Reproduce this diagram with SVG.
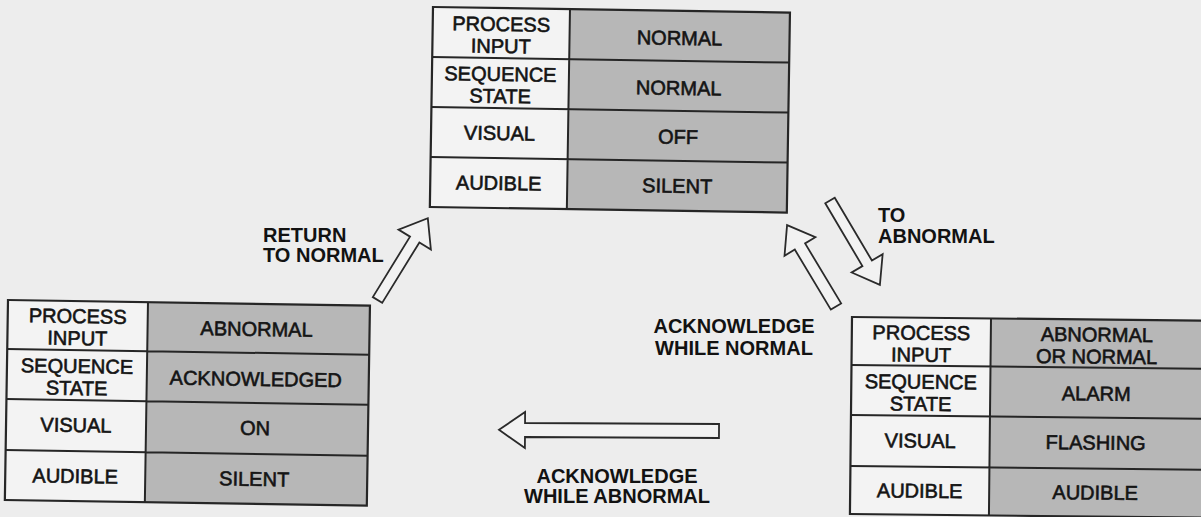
<svg xmlns="http://www.w3.org/2000/svg" width="1201" height="517" viewBox="0 0 1201 517">
  <style>
    .bg { fill: #ededed; }
    .key { fill: #f3f3f3; }
    .val { fill: #b7b7b7; }
    .grid { fill: none; stroke: #262626; stroke-width: 2; }
    .frame { fill: none; stroke: #262626; stroke-width: 2.2; }
    .cell { font-family: "Liberation Sans", Arial, sans-serif; font-size: 20px; fill: #141414; text-anchor: middle; stroke: #141414; stroke-width: 0.6; }
    .arrow { fill: #f2f2f2; stroke: #2a2a2a; stroke-width: 1.8; stroke-linejoin: miter; }
    .label { font-family: "Liberation Sans", Arial, sans-serif; font-size: 20px; font-weight: bold; fill: #121212; }
  </style>

  <rect class="bg" x="0" y="0" width="1201" height="517"/>

  <!-- Normal state -->
  <g id="state-normal" transform="translate(433,7) rotate(0.9)">
    <rect class="key" x="0" y="0" width="137" height="200"/>
    <rect class="val" x="137" y="0" width="220" height="200"/>
    <path class="grid" d="M0,50H357M0,100H357M0,150H357M137,0V200"/>
    <rect class="frame" x="0" y="0" width="357" height="200"/>
    <text class="cell" x="68.5" y="23">PROCESS</text>
    <text class="cell" x="68.5" y="45">INPUT</text>
    <text class="cell" x="68.5" y="73">SEQUENCE</text>
    <text class="cell" x="68.5" y="95">STATE</text>
    <text class="cell" x="68.5" y="132">VISUAL</text>
    <text class="cell" x="68.5" y="182">AUDIBLE</text>
    <text class="cell" x="247" y="34">NORMAL</text>
    <text class="cell" x="247" y="84">NORMAL</text>
    <text class="cell" x="247" y="133">OFF</text>
    <text class="cell" x="247" y="182">SILENT</text>
  </g>

  <!-- Acknowledged state -->
  <g id="state-acknowledged" transform="translate(8,300) rotate(0.9)">
    <rect class="key" x="0" y="0" width="140" height="200"/>
    <rect class="val" x="140" y="0" width="222" height="200"/>
    <path class="grid" d="M0,49H362M0,99H362M0,150H362M140,0V200"/>
    <rect class="frame" x="0" y="0" width="362" height="200"/>
    <text class="cell" x="70" y="22">PROCESS</text>
    <text class="cell" x="70" y="44">INPUT</text>
    <text class="cell" x="70" y="72">SEQUENCE</text>
    <text class="cell" x="70" y="94">STATE</text>
    <text class="cell" x="70" y="131">VISUAL</text>
    <text class="cell" x="70" y="182">AUDIBLE</text>
    <text class="cell" x="249" y="32">ABNORMAL</text>
    <text class="cell" x="249" y="82">ACKNOWLEDGED</text>
    <text class="cell" x="249" y="131">ON</text>
    <text class="cell" x="249" y="182">SILENT</text>
  </g>

  <!-- Alarm state -->
  <g id="state-alarm" transform="translate(852,317) rotate(0.6)">
    <rect class="key" x="0" y="0" width="139" height="197"/>
    <rect class="val" x="139" y="0" width="220" height="197"/>
    <path class="grid" d="M0,48H359M0,98H359M0,149H359M139,0V197"/>
    <rect class="frame" x="0" y="0" width="359" height="197"/>
    <text class="cell" x="69.5" y="22">PROCESS</text>
    <text class="cell" x="69.5" y="44">INPUT</text>
    <text class="cell" x="69.5" y="71">SEQUENCE</text>
    <text class="cell" x="69.5" y="93">STATE</text>
    <text class="cell" x="69.5" y="130">VISUAL</text>
    <text class="cell" x="69.5" y="180">AUDIBLE</text>
    <text class="cell" x="245" y="22">ABNORMAL</text>
    <text class="cell" x="245" y="44">OR NORMAL</text>
    <text class="cell" x="245" y="81">ALARM</text>
    <text class="cell" x="245" y="130">FLASHING</text>
    <text class="cell" x="245" y="180">AUDIBLE</text>
  </g>

  <!-- Transitions: hollow block arrows, drawn along +x from the base then rotated -->
  <g id="connectors">
    <polygon class="arrow" transform="translate(377.5,300) rotate(-58.4)"
             points="0,-5.5 71,-5.5 71,-19 96,0 71,19 71,5.5 0,5.5"/>
    <polygon class="arrow" transform="translate(830,200.5) rotate(59.4)"
             points="0,-5.5 73,-5.5 73,-18 98,0 73,18 73,5.5 0,5.5"/>
    <polygon class="arrow" transform="translate(836,306.5) rotate(-121)"
             points="0,-6 70,-6 70,-18 95,0 70,18 70,6 0,6"/>
    <polygon class="arrow" transform="translate(719,431) rotate(180.3)"
             points="0,-7 194,-7 194,-18 220,0 194,18 194,7 0,7"/>

    <text class="label" x="263" y="242">RETURN</text>
    <text class="label" x="263" y="262">TO NORMAL</text>
    <text class="label" x="878" y="222">TO</text>
    <text class="label" x="878" y="243">ABNORMAL</text>
    <text class="label" x="734" y="333" text-anchor="middle">ACKNOWLEDGE</text>
    <text class="label" x="734" y="355" text-anchor="middle">WHILE NORMAL</text>
    <text class="label" x="617" y="483" text-anchor="middle">ACKNOWLEDGE</text>
    <text class="label" x="617" y="503" text-anchor="middle">WHILE ABNORMAL</text>
  </g>
</svg>
